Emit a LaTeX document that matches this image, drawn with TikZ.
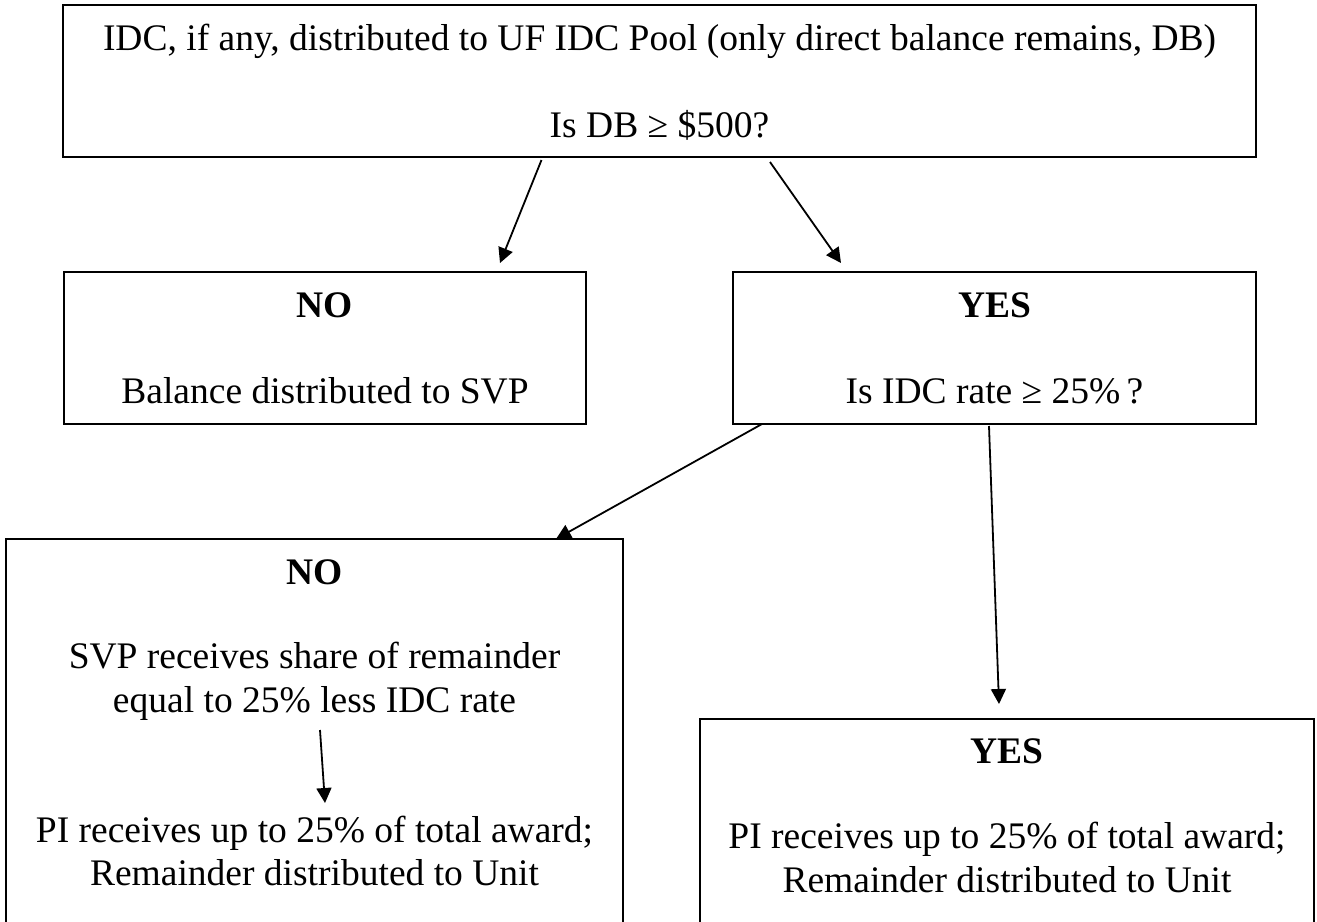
\documentclass[tikz,border=0pt]{standalone}
\usepackage{fontspec}
\setmainfont{Liberation Serif}
\usetikzlibrary{arrows.meta}
\tikzset{
  box/.style={draw, line width=1.8pt, rectangle, inner sep=0pt, fill=none},
  txt/.style={inner sep=0pt, anchor=base, font=\fontsize{37.5}{44}\selectfont},
  btxt/.style={txt, font=\fontsize{37.5}{44}\selectfont\bfseries},
  conn/.style={line width=1.8pt, -{Triangle[length=15pt,width=15pt]}}
}
\begin{document}
\begin{tikzpicture}[x=1pt,y=-1pt]
\useasboundingbox (0,0) rectangle (1317,921);
\clip (0,0) rectangle (1317,921);
% boxes
\node[box, minimum width=1193pt, minimum height=152pt] (top) at (659.5,81) {};
\node[box, minimum width=522pt, minimum height=152pt] (no1) at (325,348) {};
\node[box, minimum width=523pt, minimum height=152pt] (yes1) at (994.5,348) {};
\node[box, minimum width=617pt, minimum height=420pt] (no2) at (314.5,749) {};
\node[box, minimum width=614pt, minimum height=240pt] (yes2) at (1007,839) {};
% texts
\node[txt] (t1) at (659.5,50) {IDC, if any, distributed to UF IDC Pool (only direct balance remains, DB)};
\node[txt] (t2) at (659.5,137) {Is DB ≥ \$500?};
\node[btxt] (n1a) at (325,317) {NO};
\node[txt] (n1b) at (325,403) {Balance distributed to SVP};
\node[btxt] (y1a) at (994.5,317) {YES};
\node[txt] (y1b) at (994.5,403) {Is IDC rate ≥ 25\%\,?};
\node[btxt] (n2a) at (314.5,584) {NO};
\node[txt] (n2b) at (314.5,668) {SVP receives share of remainder};
\node[txt] (n2c) at (314.5,712) {equal to 25\% less IDC rate};
\node[txt] (n2d) at (314.5,842) {PI receives up to 25\% of total award;};
\node[txt] (n2e) at (314.5,885) {Remainder distributed to Unit};
\node[btxt] (y2a) at (1007,763) {YES};
\node[txt] (y2b) at (1007,848) {PI receives up to 25\% of total award;};
\node[txt] (y2c) at (1007,892) {Remainder distributed to Unit};
% connector endpoints
\coordinate (a1s) at (541.5,160);
\coordinate (a1e) at (500,263);
\coordinate (a2s) at (770,162);
\coordinate (a2e) at (841,263);
\coordinate (a3s) at (762,424);
\coordinate (a3e) at (556,539);
\coordinate (a4s) at (989,426);
\coordinate (a4e) at (999,704);
\coordinate (a5s) at (320,730);
\coordinate (a5e) at (325,803);
\draw[conn] (a1s) -- (a1e);
\draw[conn] (a2s) -- (a2e);
\draw[conn] (a3s) -- (a3e);
\draw[conn] (a4s) -- (a4e);
\draw[conn] (a5s) -- (a5e);
\end{tikzpicture}
\end{document}
